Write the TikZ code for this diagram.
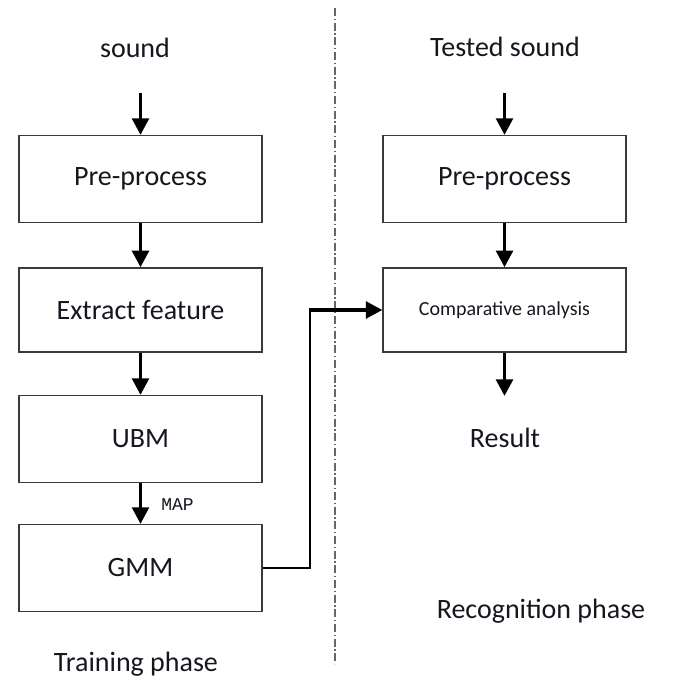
\documentclass[tikz,border=0pt]{standalone}
\usepackage{fontspec}
\setmainfont{Carlito}
\newfontfamily\monof{Liberation Mono}
\usetikzlibrary{arrows.meta}
\definecolor{txt}{HTML}{16161E}
\definecolor{boxline}{HTML}{3A3A3A}
\tikzset{
  stepbox/.style={draw=boxline, line width=1.1pt, minimum width=182pt, minimum height=65pt, inner sep=0pt, text=txt, font=\fontsize{21}{25}\selectfont},
  lbl/.style={text=txt, inner sep=0pt, font=\fontsize{21}{25}\selectfont},
  arr/.style={line width=2.8pt, -{Triangle[length=12.5pt,width=12.5pt]}},
  conn/.style={line width=1.3pt},
  sep/.style={draw=gray!80!black, line width=0.8pt, dash pattern=on 6pt off 2pt on 1pt off 2pt}
}
\begin{document}
\begin{tikzpicture}[x=0.75pt,y=-0.75pt]
\useasboundingbox (0,0) rectangle (673,684);
% separator
\coordinate (septop) at (335,8);
\coordinate (sepbot) at (335,664);
\draw[sep] (septop) -- (sepbot);
% left column
\node[lbl] (snd) at (135,48) {sound};
\node[stepbox] (pp1) at (140.5,179) {Pre-process};
\node[stepbox, minimum height=63pt] (ef) at (140.5,310) {Extract feature};
\node[stepbox] (ubm) at (140.5,439) {UBM};
\node[stepbox] (gmm) at (140.5,568) {GMM};
\node[lbl] (tp) at (136,664) {Training phase};
\node[text=txt, inner sep=0pt, font=\monof\fontsize{13.5}{16}\selectfont] (map) at (177.5,505) {MAP};
% right column
\node[lbl] (tsnd) at (505,47) {Tested sound};
\node[stepbox] (pp2) at (504.5,179) {Pre-process};
\node[stepbox, minimum height=63pt, font=\fontsize{15}{18}\selectfont] (ca) at (504.5,310) {\raisebox{-2pt}{Comparative analysis}};
\node[lbl] (res) at (505,438) {Result};
\node[lbl] (rp) at (541,611) {Recognition phase};
% arrows
\coordinate (a0) at (140.5,93);
\coordinate (b0) at (504.5,93);
\coordinate (r0) at (504.5,396);
\coordinate (bend) at (310,310);
\draw[arr] (a0) -- (pp1.north);
\draw[arr] (pp1) -- (ef);
\draw[arr] (ef) -- (ubm);
\draw[arr] (ubm) -- (gmm);
\draw[arr] (b0) -- (pp2.north);
\draw[arr] (pp2) -- (pp2 |- ca.north);
\draw[arr] (ca.south) -- (r0);
\draw[conn] (gmm.east) -| (bend);
\draw[arr] ([xshift=-0.6pt]bend) -- (bend -| ca.west);
\end{tikzpicture}
\end{document}
